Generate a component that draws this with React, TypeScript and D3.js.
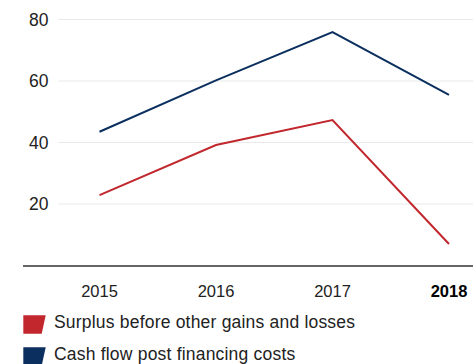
import React from "react";
import * as d3 from "d3";

const years = ["2015", "2016", "2017", "2018"];
const surplus = [22.9, 39.2, 47.3, 7.0];
const cashFlow = [43.5, 60.2, 75.9, 55.5];
const yTicks = [20, 40, 60, 80];
const seriesNames = ["Surplus before other gains and losses", "Cash flow post financing costs"];
const seriesColors = ["#c1272d", "#0b2f5e"];

const W = 473;
const H = 364;
const FONT = "'Liberation Sans', Arial, Helvetica, sans-serif";

export default function App() {
  const x = d3.scalePoint<string>().domain(years).range([99.5, 449]);
  const y = d3.scaleLinear().domain([0, 80]).range([265.5, 19.5]);
  const line = d3
    .line<number>()
    .x((_, i) => x(years[i]) as number)
    .y((d) => y(d));
  const series = [surplus, cashFlow];

  return (
    <svg
      width={W}
      height={H}
      style={{ position: "absolute", left: 0, top: 0, background: "#fff" }}
      fontFamily={FONT}
    >
      {yTicks.map((t) => (
        <g key={t}>
          <line x1={58} x2={W} y1={y(t)} y2={y(t)} stroke="#e8eaea" strokeWidth={1.2} />
          <text x={48.5} y={y(t)} dy="0.36em" textAnchor="end" fontSize={17.5} fill="#222">
            {t}
          </text>
        </g>
      ))}
      <line x1={23} x2={W} y1={266} y2={266} stroke="#333" strokeWidth={1.3} />
      {years.map((yr, i) => (
        <text
          key={yr}
          x={x(yr)}
          y={297}
          textAnchor="middle"
          fontSize={16.5}
          fontWeight={i === years.length - 1 ? "bold" : "normal"}
          fill={i === years.length - 1 ? "#000" : "#222"}
        >
          {yr}
        </text>
      ))}
      {series.map((s, i) => (
        <path key={i} d={line(s) || ""} fill="none" stroke={seriesColors[i]} strokeWidth={2} />
      ))}
      {seriesNames.map((name, i) => {
        const top = 315.3 + i * 32;
        return (
          <g key={name}>
            <polygon
              points={`23.3,${top} 45.7,${top} 41.7,${top + 18.4} 23.3,${top + 18.4}`}
              fill={seriesColors[i]}
            />
            <text x={54} y={top + 12.2} fontSize={17.5} letterSpacing={0.2} fill="#222">
              {name}
            </text>
          </g>
        );
      })}
    </svg>
  );
}
